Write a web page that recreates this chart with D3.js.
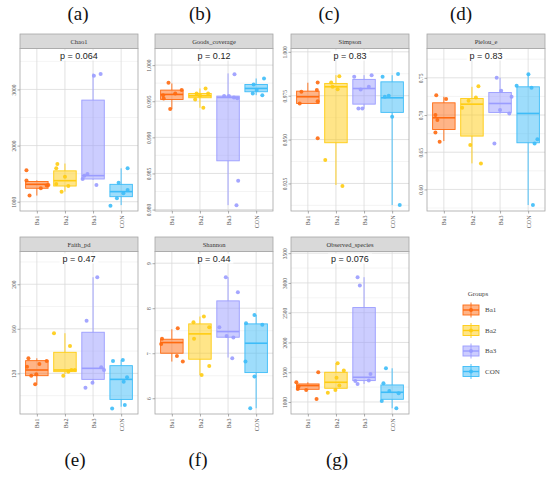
<!DOCTYPE html>
<html>
<head>
<meta charset="utf-8">
<script src="https://cdn.jsdelivr.net/npm/d3@7"></script>
<style>
body { margin: 0; background: #fff; }
svg { display: block; }
</style>
</head>
<body>
<svg id="chart" width="550" height="480"></svg>
<script>
const groups = ["Ba1", "Ba2", "Ba3", "CON"];
const groupColors = ["#ff6a10", "#ffcc11", "#9a9cff", "#3dbcf8"];

// box stats per group: [lower whisker, q1, median, q3, upper whisker]
const chao1Values = [[1560, 1380, 1110, 1240, 1290, 1300], [1670, 1595, 1445, 1315, 1180, 1280], [3245, 3275, 1495, 1465, 1405, 1300], [1595, 1340, 930, 1060, 1150, 1210]];
const chao1Jitter = [[-0.37, -0.37, -0.26, 0.14, 0.35, 0.41], [-0.27, -0.31, 0, -0.31, -0.12, 0.12], [0.03, 0.27, -0.2, -0.31, -0.37, 0.12], [0.23, -0.09, -0.38, -0.15, 0.08, 0.23]];
const chao1Stats = [[1110, 1240, 1310, 1360, 1380], [1180, 1280, 1375, 1550, 1680], [1390, 1405, 1465, 2810, 3285], [940, 1090, 1180, 1310, 1595]];
const chao1Ticks = [1000, 2000, 3000];
const chao1Domain = [835, 3729];

const goodsValues = [[0.99755, 0.99391, 0.99608, 0.99654, 0.99584, 0.99538], [0.99677, 0.99409, 0.99608, 0.9958, 0.99524, 0.99608], [0.99875, 0.98398, 0.98061, 0.99571, 0.99571, 0.99552, 0.9954], [0.99815, 0.99732, 0.99608, 0.99584, 0.99654]];
const goodsJitter = [[-0.12, -0.06, 0.12, 0.35, -0.31, -0.29], [0.2, 0.12, -0.12, 0, -0.17, 0.29], [0.23, 0.36, 0.3, -0.14, 0.03, 0.21, 0.33], [0.28, -0.09, -0.12, 0.22, 0.02]];
const goodsStats = [[0.99391, 0.99524, 0.99594, 0.99654, 0.99746], [0.99409, 0.99548, 0.99575, 0.99608, 0.99677], [0.98061, 0.98675, 0.99552, 0.99571, 0.99885], [0.99584, 0.99631, 0.99677, 0.99732, 0.99815]];
const goodsTicks = [0.980, 0.985, 0.990, 0.995, 1.000];
const goodsDomain = [0.9798, 1.0023];

const simpsonValues = [[0.9706, 0.9772, 0.9825, 0.9782, 0.9719, 0.9507], [0.9861, 0.9825, 0.9787, 0.9801, 0.9383, 0.9235], [0.9858, 0.9867, 0.9786, 0.9801, 0.9677, 0.9677], [0.9858, 0.9873, 0.9744, 0.975, 0.963, 0.9127]];
const simpsonJitter = [[-0.29, -0.23, 0.35, 0.32, 0.35, 0.35], [0.12, -0.17, 0.06, -0.12, -0.38, 0.23], [-0.35, 0.27, -0.12, 0.17, -0.2, -0.06], [-0.34, 0.21, -0.26, -0.12, 0, 0.27]];
const simpsonStats = [[0.9706, 0.9706, 0.9744, 0.9776, 0.9824], [0.9241, 0.9482, 0.9801, 0.9820, 0.9867], [0.9677, 0.9702, 0.9791, 0.9843, 0.9867], [0.9127, 0.9655, 0.9738, 0.9829, 0.9867]];
const simpsonTicks = [0.925, 0.950, 0.975, 1.000];
const simpsonDomain = [0.9093, 1.0019];

const pielouValues = [[0.7267, 0.7214, 0.6999, 0.6932, 0.6766, 0.6641], [0.7388, 0.7236, 0.7191, 0.7097, 0.6596, 0.635], [0.75, 0.7325, 0.7245, 0.7066, 0.7021, 0.6618], [0.7549, 0.7393, 0.7366, 0.6676, 0.6618, 0.579]];
const pielouJitter = [[-0.27, 0.08, -0.3, -0.23, -0.3, -0.15], [0.23, 0.14, -0.12, -0.35, -0.06, 0.32], [-0.12, 0.04, 0.41, 0, 0.33, -0.2], [0.01, -0.41, 0.12, 0.33, 0.23, 0.17]];
const pielouStats = [[0.6650, 0.6806, 0.6963, 0.7164, 0.7245], [0.6350, 0.6717, 0.7146, 0.7223, 0.7379], [0.7021, 0.7035, 0.7155, 0.7303, 0.75], [0.579, 0.6627, 0.7021, 0.7379, 0.7558]];
const pielouTicks = [0.60, 0.65, 0.70, 0.75];
const pielouDomain = [0.571, 0.7894];

const faithValues = [[133.5, 131.1, 128.4, 126, 117.9, 119.1, 110.1], [156, 144.6, 117.9, 121.5, 123, 123], [206.3, 167.3, 125.4, 123, 111.6, 107.1], [131.1, 132, 116.4, 112.5, 88.5, 91.5]];
const faithJitter = [[-0.3, 0.35, 0.09, -0.35, -0.2, -0.02, -0.06], [-0.39, 0.18, -0.06, 0.12, 0.23, 0.35], [0.15, -0.23, 0.29, 0.39, -0.02, -0.27], [-0.29, 0.06, 0.21, 0.09, -0.32, 0.13]];
const faithStats = [[110.1, 117.9, 123, 131.4, 133.5], [119.4, 121.5, 123, 138.9, 156], [111.6, 114.6, 124.5, 156.9, 206.3], [90, 96.6, 114.6, 126.9, 132]];
const faithTicks = [120, 160, 200];
const faithDomain = [83.5, 229.4];

const shannonValues = [[7.556, 7.319, 7.207, 6.941, 6.815], [7.815, 7.689, 7.578, 7.319, 6.719, 6.519], [8.689, 8.356, 7.578, 7.385, 7.348, 6.889], [7.852, 7.667, 7.63, 6.815, 6.481, 5.778]];
const shannonJitter = [[0.21, -0.35, -0.38, 0.18, 0.39], [0.14, -0.23, 0.33, -0.21, 0.33, 0.06], [-0.08, 0.35, -0.31, -0.05, 0.19, 0.15], [-0.06, -0.36, 0.22, -0.38, -0.06, -0.21]];
const shannonStats = [[6.815, 7.0, 7.237, 7.311, 7.533], [6.519, 6.867, 7.43, 7.652, 7.815], [6.904, 7.356, 7.481, 8.163, 8.689], [5.778, 6.57, 7.222, 7.652, 7.852]];
const shannonTicks = [6, 7, 8, 9];
const shannonDomain = [5.65, 9.26];

const observedValues = [[1331, 1258, 1219, 1202, 1050, 1499], [1650, 1527, 1409, 1275, 1202, 1157], [3096, 2956, 1471, 1359, 1353, 1303], [1566, 1314, 1185, 1146, 1017, 894]];
const observedJitter = [[-0.41, -0.33, -0.36, -0.06, 0.31, 0.37], [0.06, 0.28, 0.02, 0.12, -0.02, -0.29], [-0.23, -0.15, 0.23, 0.17, -0.31, -0.23], [-0.22, -0.31, -0.1, 0.23, -0.37, 0.15]];
const observedStats = [[1202, 1213, 1275, 1303, 1331], [1191, 1230, 1331, 1499, 1650], [1303, 1359, 1415, 2586, 3096], [894, 1045, 1163, 1286, 1566]];
const observedTicks = [1000, 1500, 2000, 2500, 3000, 3500];
const observedDomain = [798, 3528];

const metricNames = ["Chao1", "Goods_coverage", "Simpson", "Pielou_e", "Faith_pd", "Shannon", "Observed_species"];
const pValues = ["0.064", "0.12", "0.83", "0.83", "0.47", "0.44", "0.076"];
const tickFormats = ["d", ".3f", ".3f", ".2f", "d", "d", "d"];
const panelLetters = ["(a)", "(b)", "(c)", "(d)", "(e)", "(f)", "(g)"];

const metrics = [
	{values: chao1Values, jitter: chao1Jitter, stats: chao1Stats, ticks: chao1Ticks, domain: chao1Domain, col: 0, row: 0},
	{values: goodsValues, jitter: goodsJitter, stats: goodsStats, ticks: goodsTicks, domain: goodsDomain, col: 1, row: 0},
	{values: simpsonValues, jitter: simpsonJitter, stats: simpsonStats, ticks: simpsonTicks, domain: simpsonDomain, col: 2, row: 0},
	{values: pielouValues, jitter: pielouJitter, stats: pielouStats, ticks: pielouTicks, domain: pielouDomain, col: 3, row: 0},
	{values: faithValues, jitter: faithJitter, stats: faithStats, ticks: faithTicks, domain: faithDomain, col: 0, row: 1},
	{values: shannonValues, jitter: shannonJitter, stats: shannonStats, ticks: shannonTicks, domain: shannonDomain, col: 1, row: 1},
	{values: observedValues, jitter: observedJitter, stats: observedStats, ticks: observedTicks, domain: observedDomain, col: 2, row: 1}
].map((m, i) => ({...m, name: metricNames[i], p: pValues[i], format: tickFormats[i], letter: panelLetters[i]}));

const svg = d3.select("#chart");
const serif = "'Liberation Serif', 'DejaVu Serif', serif";
const sans = "'Liberation Sans', Arial, sans-serif";

const colLeft = [20, 155, 291, 427];
const panelW = 118;
const stripTop = [34, 237];
const stripH = 14.5;
const plotBottom = [211, 414];
const letterPos = [[78, 20], [200, 20], [329, 20], [461, 20], [75, 466], [198, 466], [337, 466]];

const borderColor = "#a6a6a6";

metrics.forEach((m, mi) => {
	const left = colLeft[m.col];
	const right = left + panelW;
	const top = stripTop[m.row] + stripH;
	const bottom = plotBottom[m.row];

	const x = d3.scalePoint().domain(groups).range([left, right]).padding(0.6);
	const y = d3.scaleLinear().domain(m.domain).range([bottom, top]);
	const step = x.step();
	const boxW = step * 0.8;

	const g = svg.append("g").attr("class", "panel");

	g.append("rect")
	.attr("x", left).attr("y", top)
	.attr("width", panelW).attr("height", bottom - top)
	.attr("fill", "#fff");

	// minor grid between major ticks
	const half = (m.ticks[1] - m.ticks[0]) / 2;
	const minor = [m.ticks[0] - half].concat(m.ticks.map((t) => t + half))
	.filter((v) => v > m.domain[0] && v < m.domain[1]);

	g.selectAll(".minor")
	.data(minor)
	.enter()
	.append("line")
	.attr("x1", left).attr("x2", right)
	.attr("y1", (d) => y(d)).attr("y2", (d) => y(d))
	.attr("stroke", "#ededed").attr("stroke-width", 0.6);

	g.selectAll(".major")
	.data(m.ticks)
	.enter()
	.append("line")
	.attr("x1", left).attr("x2", right)
	.attr("y1", (d) => y(d)).attr("y2", (d) => y(d))
	.attr("stroke", "#dadada").attr("stroke-width", 0.8);

	g.selectAll(".vgrid")
	.data(groups)
	.enter()
	.append("line")
	.attr("x1", (d) => x(d)).attr("x2", (d) => x(d))
	.attr("y1", top).attr("y2", bottom)
	.attr("stroke", "#dadada").attr("stroke-width", 0.8);

	// p-value label with white background
	const pText = g.append("text")
	.attr("x", (left + right) / 2)
	.attr("y", top + 10)
	.attr("text-anchor", "middle")
	.attr("font-family", sans)
	.attr("font-size", "9px")
	.attr("fill", "#222")
	.text(`p = ${m.p}`);
	const bb = pText.node().getBBox();
	g.insert("rect", () => pText.node())
	.attr("x", bb.x - 3).attr("y", top + 2)
	.attr("width", bb.width + 6).attr("height", 10)
	.attr("fill", "#fff");

	// boxes
	const box = g.selectAll(".box")
	.data(m.stats)
	.enter()
	.append("g")
	.attr("class", "box");

	box.append("line")
	.attr("x1", (d, i) => x(groups[i])).attr("x2", (d, i) => x(groups[i]))
	.attr("y1", (d) => y(d[0])).attr("y2", (d) => y(d[1]))
	.attr("stroke", (d, i) => groupColors[i]).attr("stroke-width", 0.9);

	box.append("line")
	.attr("x1", (d, i) => x(groups[i])).attr("x2", (d, i) => x(groups[i]))
	.attr("y1", (d) => y(d[3])).attr("y2", (d) => y(d[4]))
	.attr("stroke", (d, i) => groupColors[i]).attr("stroke-width", 0.9);

	box.append("rect")
	.attr("x", (d, i) => x(groups[i]) - boxW / 2)
	.attr("y", (d) => y(d[3]))
	.attr("width", boxW)
	.attr("height", (d) => Math.max(y(d[1]) - y(d[3]), 0.5))
	.attr("fill", (d, i) => groupColors[i])
	.attr("fill-opacity", 0.5)
	.attr("stroke", (d, i) => groupColors[i])
	.attr("stroke-width", 0.9);

	box.append("line")
	.attr("x1", (d, i) => x(groups[i]) - boxW / 2).attr("x2", (d, i) => x(groups[i]) + boxW / 2)
	.attr("y1", (d) => y(d[2])).attr("y2", (d) => y(d[2]))
	.attr("stroke", (d, i) => groupColors[i]).attr("stroke-width", 1.6);

	// jittered points
	const pts = [];
	m.values.forEach((vals, gi) => vals.forEach((v, j) => pts.push({gi, v, jit: m.jitter[gi][j]})));

	g.selectAll(".pt")
	.data(pts)
	.enter()
	.append("circle")
	.attr("cx", (d) => x(groups[d.gi]) + d.jit * step)
	.attr("cy", (d) => y(d.v))
	.attr("r", 2)
	.attr("fill", (d) => groupColors[d.gi])
	.attr("fill-opacity", 0.9);

	// border
	g.append("rect")
	.attr("x", left).attr("y", top)
	.attr("width", panelW).attr("height", bottom - top)
	.attr("fill", "none")
	.attr("stroke", borderColor).attr("stroke-width", 0.8);

	// strip
	g.append("rect")
	.attr("x", left).attr("y", stripTop[m.row])
	.attr("width", panelW).attr("height", stripH)
	.attr("fill", "#d9d9d9")
	.attr("stroke", borderColor).attr("stroke-width", 0.8);

	g.append("text")
	.attr("x", (left + right) / 2)
	.attr("y", stripTop[m.row] + stripH / 2)
	.attr("dy", "0.35em")
	.attr("text-anchor", "middle")
	.attr("font-family", serif)
	.attr("font-size", "6.5px")
	.attr("fill", "#333")
	.text(m.name);

	// y axis
	const yAxis = g.append("g")
	.attr("transform", `translate(${left},0)`)
	.call(d3.axisLeft(y).tickValues(m.ticks).tickSize(2.5).tickFormat(d3.format(m.format)));
	yAxis.select(".domain").remove();
	yAxis.selectAll("line").attr("stroke", "#888").attr("stroke-width", 0.7);
	yAxis.selectAll("text")
	.attr("transform", "rotate(-90)")
	.attr("x", 0).attr("y", -4).attr("dy", 0)
	.attr("text-anchor", "middle")
	.attr("font-family", serif)
	.attr("font-size", "5.5px")
	.attr("fill", "#555");

	// x axis
	const xAxis = g.append("g")
	.attr("transform", `translate(0,${bottom})`)
	.call(d3.axisBottom(x).tickSize(2.5));
	xAxis.select(".domain").remove();
	xAxis.selectAll("line").attr("stroke", "#888").attr("stroke-width", 0.7);
	xAxis.selectAll("text")
	.attr("transform", "rotate(-90)")
	.attr("x", -4.5).attr("y", 0).attr("dy", "0.35em")
	.attr("text-anchor", "end")
	.attr("font-family", serif)
	.attr("font-size", "6px")
	.attr("fill", "#555");

	// panel letter
	svg.append("text")
	.attr("x", letterPos[mi][0])
	.attr("y", letterPos[mi][1])
	.attr("text-anchor", "middle")
	.attr("font-family", serif)
	.attr("font-size", "19px")
	.attr("fill", "#111")
	.text(m.letter);
});

// legend
const legend = svg.append("g").attr("transform", "translate(463,0)");

legend.append("text")
.attr("x", 15).attr("y", 296)
.attr("text-anchor", "middle")
.attr("font-family", serif)
.attr("font-size", "7px")
.attr("fill", "#444")
.text("Groups");

const keyY = d3.scalePoint().domain(groups).range([310, 371.5]);

const key = legend.selectAll(".key")
.data(groups)
.enter()
.append("g")
.attr("class", "key")
.attr("transform", (d) => `translate(0,${keyY(d)})`);

key.append("line")
.attr("x1", 8).attr("x2", 8).attr("y1", -7.5).attr("y2", 7.5)
.attr("stroke", (d, i) => groupColors[i]).attr("stroke-width", 0.9);

key.append("rect")
.attr("x", 0).attr("y", -5)
.attr("width", 16).attr("height", 10)
.attr("fill", (d, i) => groupColors[i]).attr("fill-opacity", 0.5)
.attr("stroke", (d, i) => groupColors[i]).attr("stroke-width", 0.9);

key.append("line")
.attr("x1", 0).attr("x2", 16).attr("y1", 0).attr("y2", 0)
.attr("stroke", (d, i) => groupColors[i]).attr("stroke-width", 1.4);

key.append("circle")
.attr("cx", 8).attr("cy", 0).attr("r", 2)
.attr("fill", (d, i) => groupColors[i]);

key.append("text")
.attr("x", 22).attr("y", 0).attr("dy", "0.35em")
.attr("font-family", serif)
.attr("font-size", "7px")
.attr("fill", "#444")
.text((d) => d);
</script>
</body>
</html>
